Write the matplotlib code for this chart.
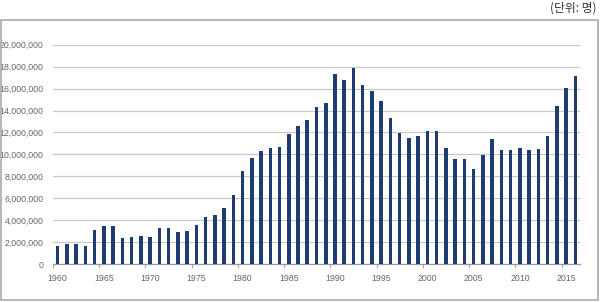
import matplotlib.pyplot as plt
from matplotlib.patches import Rectangle
from matplotlib.ticker import FuncFormatter, FixedLocator

# 연도별 값 (명)
years = list(range(1960, 2017))
values = [
    1670000, 1790000, 1790000, 1670000, 3100000, 3490000, 3490000, 2370000, 2460000, 2520000,
    2460000, 3250000, 3250000, 2890000, 3000000, 3520000, 4280000, 4500000, 5070000, 6290000,
    8450000, 9690000, 10270000, 10540000, 10690000, 11820000, 12600000, 13100000, 14310000, 14710000,
    17320000, 16800000, 17840000, 16320000, 15740000, 14830000, 13280000, 11970000, 11460000, 11700000,
    12120000, 12120000, 10600000, 9570000, 9570000, 8660000, 9900000, 11390000, 10360000, 10360000,
    10540000, 10360000, 10510000, 11700000, 14400000, 16100000, 17170000,
]
tick_years = list(range(1960, 2016, 5))
unit_text = '(단위: 명)'

bar_color = '#1f3c70'
text_color = '#666666'

fig = plt.figure(figsize=(6.0, 3.02), dpi=100)
ax = fig.add_axes([0.0883, 0.1258, 0.8784, 0.726])

x = list(range(len(years)))
ax.bar(x, values, width=0.38, color=bar_color, zorder=3)

ax.set_xlim(-0.5, len(years) - 0.5)
ax.set_ylim(0, 20000000)
ax.set_yticks(range(0, 20000001, 2000000))
ax.yaxis.set_major_formatter(FuncFormatter(lambda v, p: f'{int(v):,}'))
ax.grid(axis='y', color='#c8c8c8', linewidth=0.9, zorder=0)

# x 라벨은 막대 중앙, 눈금 표시는 5개 간격 경계
ax.set_xticks([years.index(y) for y in tick_years])
ax.set_xticklabels([str(y) for y in tick_years])
ax.xaxis.set_minor_locator(FixedLocator([years.index(y) - 0.5 for y in tick_years]))
ax.tick_params(axis='x', which='major', length=0, pad=7, labelsize=6.3, labelcolor=text_color)
ax.tick_params(axis='x', which='minor', length=3, color='#999999', direction='out')
ax.tick_params(axis='y', length=0, pad=7, labelsize=6.3, labelcolor=text_color)

for s in ['top', 'right', 'left']:
    ax.spines[s].set_visible(False)
ax.spines['bottom'].set_color('#999999')
ax.spines['bottom'].set_linewidth(0.9)

for lab in ax.get_xticklabels() + ax.get_yticklabels():
    lab.set_family(['Liberation Sans', 'DejaVu Sans'])

# 바깥 테두리
fig.patches.append(Rectangle((0.002, 0.006), 0.995, 0.928, transform=fig.transFigure,
                             fill=False, edgecolor='#aaaaaa', linewidth=1.2))

fig.text(0.995, 0.972, unit_text, ha='right', va='center', fontsize=8.5,
         color='#333333', family=['Noto Sans CJK KR', 'DejaVu Sans'])

fig.savefig('out.png', dpi=100)
